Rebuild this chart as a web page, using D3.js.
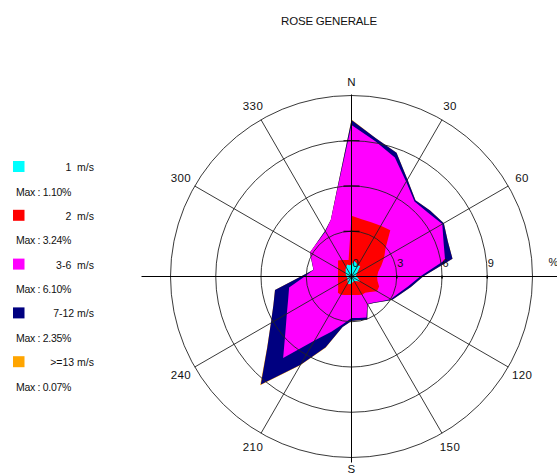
<!DOCTYPE html>
<html><head><meta charset="utf-8">
<script src="https://cdn.jsdelivr.net/npm/d3@7"></script>
<style>
body{margin:0;background:#fff}
svg{display:block}
text{font-family:"Liberation Sans",Arial,Helvetica,sans-serif;fill:#111}
</style>
</head><body><svg id="c" width="557" height="473"></svg>
<script>
// ---- data ----
const title = "ROSE GENERALE";
const directions = [0,10,20,30,40,50,60,70,80,90,100,110,120,130,140,150,160,170,180,190,200,210,220,230,240,250,260,270,280,290,300,310,320,330,340,350];
const classLabels = ["1  m/s","2  m/s","3-6  m/s","7-12 m/s",">=13 m/s"];
const classMaxText = ["Max : 1.10%","Max : 3.24%","Max : 6.10%","Max : 2.35%","Max : 0.07%"];
const classColors = ["#00ffff","#ff0000","#ff00ff","#000080","#ffa500"];
// frequency (%) per direction for each speed class
const speed1 = [0.80,1.05,0.95,0.85,0.90,0.55,0.40,0.35,0.30,0.35,0.40,0.50,0.65,0.50,0.40,0.35,0.35,0.40,0.45,0.50,0.55,0.50,0.40,0.35,0.30,0.30,0.30,0.30,0.35,0.40,0.45,0.50,0.60,0.70,0.85,0.75];
const speed2 = [3.22,2.81,2.87,3.04,3.10,2.40,2.10,1.75,1.50,1.35,1.35,1.45,1.30,1.10,1.00,1.05,0.95,0.84,0.77,0.74,0.75,0.90,1.00,0.80,0.73,0.65,0.61,0.60,0.56,0.55,0.58,0.66,0.79,0.56,0.31,0.36];
const speed3 = [6.03,5.24,4.58,3.36,2.50,3.65,4.45,4.40,4.50,2.85,2.05,1.35,1.05,0.95,0.85,0.70,1.60,1.56,1.53,1.96,2.60,3.50,5.65,4.57,3.92,3.52,3.29,2.20,1.64,1.83,2.15,2.02,1.86,2.19,2.84,4.54];
const speed4 = [0.33,0.20,0.33,0.17,0.10,0.20,0.12,0.30,0.50,0.20,0.20,0.15,0.10,0.05,0.05,0.05,0.15,0.15,0.20,0.20,1.10,1.85,2.30,1.56,1.22,1.04,0.95,0.26,0.01,0.02,0.00,0.00,0.03,0.05,0.00,0.05];
const speed5 = [0.03,0,0,0,0,0,0,0,0,0,0,0,0,0,0,0,0,0,0,0,0.02,0.04,0.07,0.02,0,0,0,0,0,0,0,0,0,0,0,0];
const ringValues = [3,6,9,12];
const ringLabels = ["0","3","6","9"];
const spokeAngles = [0,30,60,90,120,150,180,210,240,270,300,330];
const compassAngles = [0,30,60,120,150,180,210,240,300,330];
const compassText = ["N","30","60","120","150","S","210","240","300","330"];

// ---- chart ----
const svg = d3.select("#c");
svg.append("rect").attr("width",557).attr("height",473).attr("fill","#fff");
const cx = 351.5, cy = 276.5;
const r = d3.scaleLinear().domain([0,12]).range([0,181]);
const g = svg.append("g").attr("transform",`translate(${cx},${cy})`);

svg.append("text").attr("x",329).attr("y",25).attr("text-anchor","middle")
  .attr("font-size",11.5).style("letter-spacing","-0.2px").text(title);

// cumulative stacks
const classes = [speed1,speed2,speed3,speed4,speed5];
const cum = [];
let acc = directions.map(()=>0);
classes.forEach(arr=>{ acc = acc.map((v,i)=>v+arr[i]); cum.push(acc.slice()); });

const line = d3.lineRadial()
  .angle(d=>d.a*Math.PI/180)
  .radius(d=>r(d.v))
  .curve(d3.curveLinearClosed);

for(let k=cum.length-1;k>=0;k--){
  const pts = directions.map((a,i)=>({a:a,v:cum[k][i]}));
  g.append("path").attr("d",line(pts)).attr("fill",classColors[k]).attr("stroke","none");
}

// grid
const gc = "#222";
ringValues.forEach(v=>{
  g.append("circle").attr("r",r(v)).attr("fill","none").attr("stroke",gc).attr("stroke-width",0.9);
});
spokeAngles.forEach(a=>{
  if(a%90===0) return;
  const t = a*Math.PI/180;
  g.append("line").attr("x1",0).attr("y1",0)
    .attr("x2",r(12)*Math.sin(t)).attr("y2",-r(12)*Math.cos(t))
    .attr("stroke",gc).attr("stroke-width",0.9);
});
// main axes
g.append("line").attr("x1",-210).attr("x2",210).attr("y1",0).attr("y2",0).attr("stroke","#000").attr("stroke-width",1);
g.append("line").attr("x1",0).attr("x2",0).attr("y1",-r(12)-1).attr("y2",186).attr("stroke","#000").attr("stroke-width",1);
[3,6,9].forEach(v=>{
  g.append("line").attr("x1",-8).attr("x2",8).attr("y1",-r(v)).attr("y2",-r(v)).attr("stroke","#000").attr("stroke-width",1);
  g.append("line").attr("x1",r(v)).attr("x2",r(v)).attr("y1",-1).attr("y2",2).attr("stroke","#000").attr("stroke-width",1.5);
});

// ring labels
ringLabels.forEach((t,i)=>{
  const v = +t;
  g.append("text").attr("x",r(v)+(v===0?1:0.5)).attr("y",-13.5)
    .attr("dominant-baseline","central").attr("font-size",11).text(t);
});
g.append("text").attr("x",197).attr("y",-14.5).attr("dominant-baseline","central").attr("font-size",11).text("%");

// compass labels
compassAngles.forEach((a,i)=>{
  const t = a*Math.PI/180;
  let rr = 197;
  if(a===0) rr = 195;
  if(a===180) rr = 192;
  g.append("text").attr("x",rr*Math.sin(t)).attr("y",-rr*Math.cos(t))
    .attr("text-anchor","middle").attr("dominant-baseline","central")
    .attr("font-size",11.5).style("letter-spacing","0.4px").text(compassText[i]);
});

// legend
const ly0 = 161, lstep = 48.8;
classLabels.forEach((lab,i)=>{
  const y = ly0 + i*lstep;
  svg.append("rect").attr("x",13).attr("y",y).attr("width",11.5).attr("height",11)
    .attr("fill",classColors[i]);
  svg.append("text").attr("x",94).attr("y",y+6).attr("text-anchor","end")
    .attr("dominant-baseline","central").attr("font-size",10.5)
    .style("white-space","pre").attr("xml:space","preserve").text(lab);
  svg.append("text").attr("x",16).attr("y",y+30.5)
    .attr("dominant-baseline","central").attr("font-size",10.5)
    .style("letter-spacing","-0.3px").text(classMaxText[i]);
});
</script>
</body></html>
